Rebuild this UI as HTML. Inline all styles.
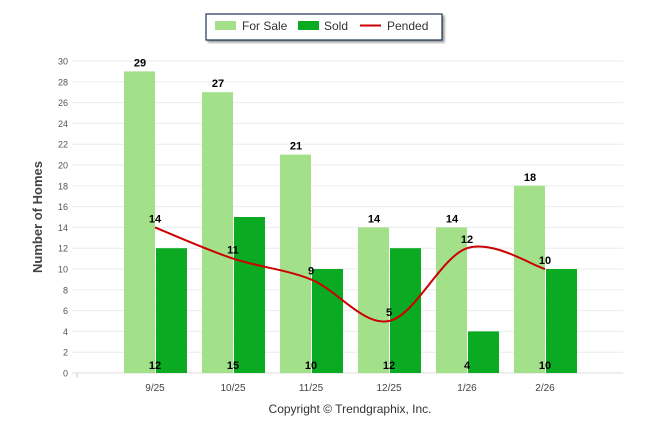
<!DOCTYPE html>
<html><head><meta charset="utf-8"><style>
body{margin:0;background:#fff;font-family:"Liberation Sans",sans-serif}
svg text{font-family:"Liberation Sans",sans-serif}
</style></head><body>
<svg width="646" height="434">
<g>
<rect x="206" y="14" width="236" height="26" fill="#fff" stroke="#1f3557" stroke-width="1.2" filter="drop-shadow(2px 2px 1px #999)"/>
<rect x="215" y="21" width="21" height="9" fill="#a2e08a"/>
<text x="242" y="30" font-size="12" fill="#333">For Sale</text>
<rect x="298" y="21" width="21" height="9" fill="#0aaa23"/>
<text x="324" y="30" font-size="12" fill="#333">Sold</text>
<line x1="360" y1="25.5" x2="381" y2="25.5" stroke="#c00" stroke-width="2"/>
<text x="387" y="30" font-size="12" fill="#333">Pended</text>
</g>
<g id="grid"></g><g id="bars"></g><g id="line"></g><g id="labels"></g>
<text transform="translate(42,217) rotate(-90)" text-anchor="middle" font-size="13" font-weight="bold" fill="#444">Number of Homes</text>
<text x="350" y="413" text-anchor="middle" font-size="12" fill="#333">Copyright © Trendgraphix, Inc.</text>
</svg>
<script>
const categories=["9/25","10/25","11/25","12/25","1/26","2/26"];
const forSale=[29,27,21,14,14,18];
const sold=[12,15,10,12,4,10];
const pended=[14,11,9,5,12,10];
const yTicks=[0,2,4,6,8,10,12,14,16,18,20,22,24,26,28,30];
const NS="http://www.w3.org/2000/svg";
const y=v=>373-v*10.4;
const x=i=>155+i*78;
function mk(t,a,p){const e=document.createElementNS(NS,t);for(const k in a)e.setAttribute(k,a[k]);p.appendChild(e);return e;}
const G=document.getElementById('grid'),B=document.getElementById('bars'),L=document.getElementById('line'),T=document.getElementById('labels');
yTicks.forEach(v=>{
 const l=mk('line',{x1:72,x2:623,y1:y(v),y2:y(v),stroke:v?'#ebebeb':'#ddd'},G);
 
 
 const t=mk('text',{x:68,y:y(v)+3.5,'text-anchor':'end','font-size':9,fill:'#555'},G);t.textContent=v;
 
 
});
mk('line',{x1:77,x2:77,y1:373,y2:378,stroke:'#ccc'},G);
categories.forEach((c,i)=>{
 const t=mk('text',{x:x(i),y:391,'text-anchor':'middle','font-size':10,fill:'#444'},G);t.textContent=c;
 
 
 const r1=mk('rect',{x:x(i)-31,y:y(forSale[i]),width:31,height:y(0)-y(forSale[i]),fill:'#a2e08a'},B);
 
 
 const r2=mk('rect',{x:x(i)+1,y:y(sold[i]),width:31,height:y(0)-y(sold[i]),fill:'#0aaa23'},B);
 
 
 const a=mk('text',{x:x(i)-15,y:y(forSale[i])-5,'text-anchor':'middle','font-size':11,'font-weight':'bold'},T);a.textContent=forSale[i];
 
 
 const b=mk('text',{x:x(i),y:369,'text-anchor':'middle','font-size':11,'font-weight':'bold'},T);b.textContent=sold[i];
 
 
 const p=mk('text',{x:x(i),y:y(pended[i])-5,'text-anchor':'middle','font-size':11,'font-weight':'bold'},T);p.textContent=pended[i];
 
 
});
const pts=pended.map((v,i)=>[x(i),y(v)]);
let d=`M${pts[0][0]},${pts[0][1]}`;
for(let i=0;i<pts.length-1;i++){
 const p0=pts[Math.max(0,i-1)],p1=pts[i],p2=pts[i+1],p3=pts[Math.min(pts.length-1,i+2)];
 const c1=[p1[0]+(p2[0]-p0[0])/6,p1[1]+(p2[1]-p0[1])/6],c2=[p2[0]-(p3[0]-p1[0])/6,p2[1]-(p3[1]-p1[1])/6];
 d+=` C${c1[0]},${c1[1]} ${c2[0]},${c2[1]} ${p2[0]},${p2[1]}`;
}
const path=mk('path',{d,fill:'none',stroke:'#c00',"stroke-width":2},L);


</script>
</body></html>
